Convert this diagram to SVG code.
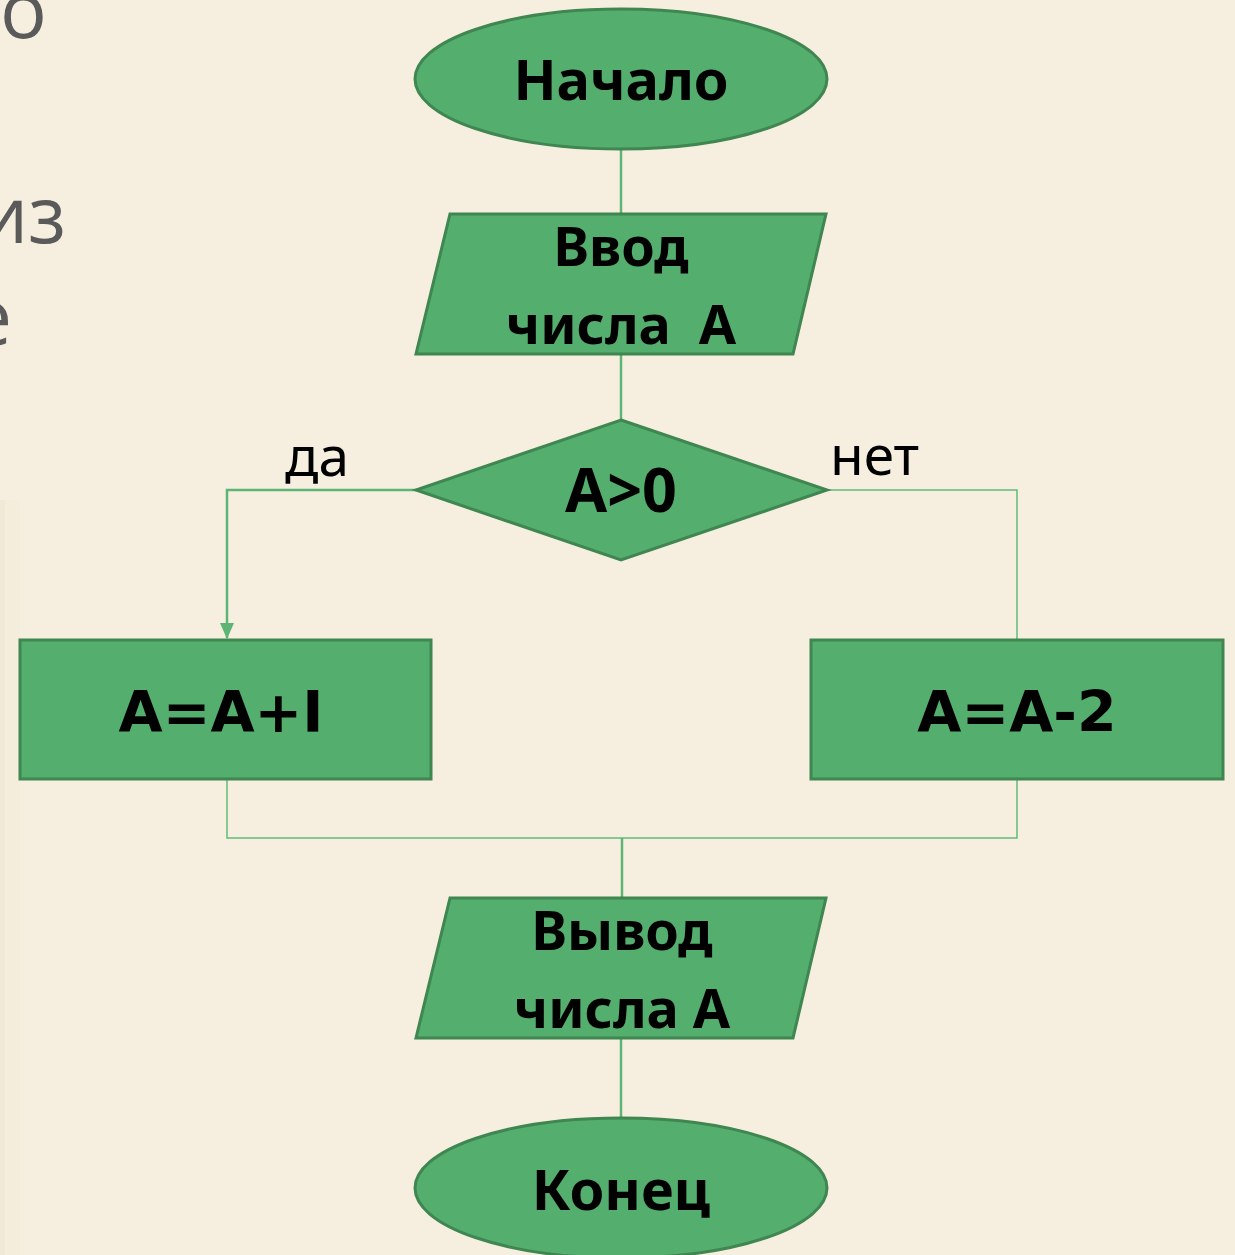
<svg xmlns="http://www.w3.org/2000/svg" width="1235" height="1255" viewBox="0 0 1235 1255">
<style>
.shape{fill:#54ae6e;stroke:#3f8651;stroke-width:3}
.lbl{font-family:"Noto Sans","Open Sans","DejaVu Sans",sans-serif;font-weight:bold;fill:#000;text-anchor:middle;white-space:pre}
.geo{font-family:"DejaVu Sans","Liberation Sans",sans-serif;font-weight:bold;fill:#000;text-anchor:middle}
.cap{font-family:"Noto Sans","Open Sans",sans-serif;font-size:55px;fill:#000}
.bg{font-family:"Open Sans","Noto Sans",sans-serif;font-size:78px;fill:#5a5a5a;text-anchor:end}
.ln{fill:none;stroke:#62bb7a;stroke-width:1.5}
.ln2{fill:none;stroke:#5cb574;stroke-width:2.5}
</style>
<defs>
<marker id="arr" markerWidth="16" markerHeight="14" refX="15" refY="7" orient="auto" markerUnits="userSpaceOnUse" viewBox="0 0 16 14">
<path d="M0,0 L16,7 L0,14 Z" fill="#5cb574"/>
</marker>
</defs>
<rect x="0" y="0" width="1235" height="1255" fill="#f6efdf"/>
<rect x="0" y="500" width="5" height="755" fill="#f1e9d7"/>
<rect x="5" y="500" width="15" height="755" fill="#f5eddc"/>
<g id="bgtext">
<text class="bg" x="47" y="38">о</text>
<text class="bg" x="66" y="243">из</text>
<text class="bg" x="12" y="345">е</text>
</g>
<g id="connectors">
<line class="ln2" x1="621" y1="149" x2="621" y2="214"/>
<line class="ln2" x1="621" y1="354" x2="621" y2="420"/>
<polyline class="ln2" points="416,490 227,490 227,638" marker-end="url(#arr)"/>
<polyline class="ln" points="827,490 1017,490 1017,640"/>
<polyline class="ln" points="227,779 227,838 1017,838 1017,779"/>
<line class="ln2" x1="622" y1="838" x2="622" y2="898"/>
<line class="ln2" x1="621" y1="1038" x2="621" y2="1118"/>
<text class="cap" x="285" y="476">да</text>
<text class="cap" x="830" y="475">нет</text>
</g>
<g id="start">
<ellipse class="shape" cx="621" cy="79" rx="206" ry="70" stroke-width="2.5"/>
<text class="lbl" x="621" y="100" font-size="56">Начало</text>
</g>
<g id="input">
<polygon class="shape" points="450,214 826,214 793,354 416,354" stroke-width="2.5"/>
<text class="lbl" x="621" y="266" font-size="54">Ввод</text>
<text class="lbl" x="621" y="344" font-size="54" xml:space="preserve">числа  А</text>
</g>
<g id="cond">
<polygon class="shape" points="621,420 827,490 621,560 416,490" stroke-width="2.5"/>
<text class="lbl" x="621" y="512" font-size="61">А&gt;0</text>
</g>
<g id="yes">
<rect class="shape" x="20" y="640" width="411" height="139"/>
<text class="geo" x="221" y="732" font-size="57">А=А+I</text>
</g>
<g id="no">
<rect class="shape" x="811" y="640" width="412" height="139"/>
<text class="geo" x="1017" y="732" font-size="57">А=А-2</text>
</g>
<g id="output">
<polygon class="shape" points="450,898 826,898 793,1038 416,1038" stroke-width="2.5"/>
<text class="lbl" x="622" y="950" font-size="54">Вывод</text>
<text class="lbl" x="622" y="1028" font-size="54">числа А</text>
</g>
<g id="end">
<ellipse class="shape" cx="621" cy="1188" rx="206" ry="70" stroke-width="2.5"/>
<text class="lbl" x="621" y="1210" font-size="56">Конец</text>
</g>
</svg>
